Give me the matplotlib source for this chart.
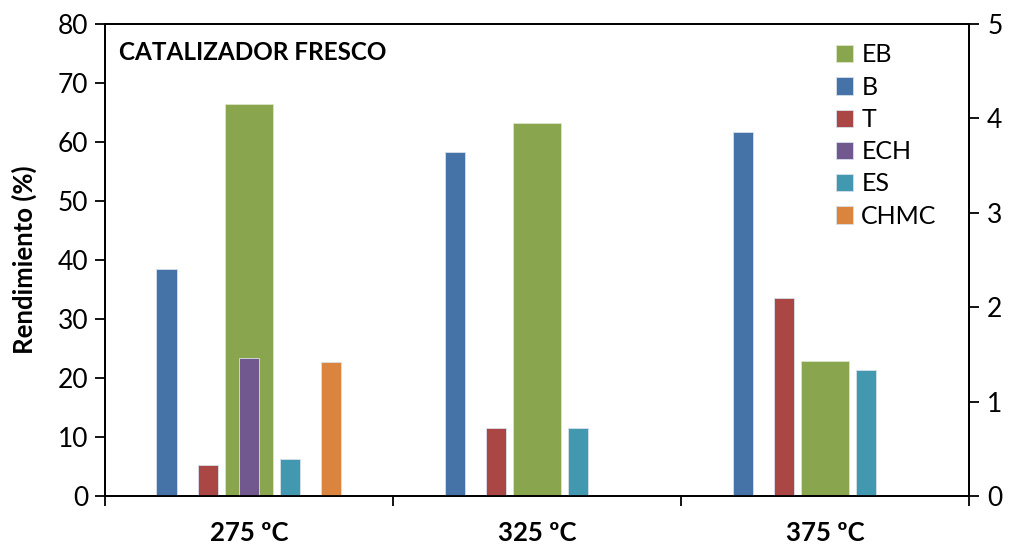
import numpy as np
import matplotlib
matplotlib.use("Agg")
from matplotlib import pyplot as plt

temperaturas = ["275 ºC", "325 ºC", "375 ºC"]

# EB va en el eje principal (izq.), el resto en el secundario (der.)
eb = [66.5, 63.3, 22.8]
b = [2.41, 3.64, 3.86]
t = [0.33, 0.72, 2.10]
ech = [1.46, 0.0, 0.0]
es = [0.39, 0.72, 1.33]
chmc = [1.42, 0.0, 0.0]

series2 = [("B", b, "#4572A7"), ("T", t, "#AA4643"), ("ECH", ech, "#71588F"),
           ("ES", es, "#4198AF"), ("CHMC", chmc, "#DB843D")]

plt.rcParams["font.family"] = ["Lato", "DejaVu Sans"]

fig = plt.figure(figsize=(10.15, 5.44), dpi=100)
ax = fig.add_axes([0.1032, 0.0882, 0.8515, 0.8677])
ax2 = ax.twinx()

x = np.arange(len(temperaturas))
h_eb = ax.bar(x, eb, width=0.1665, color="#89A54E", edgecolor="#DCE6C8",
              linewidth=0.6, label="EB")

slot = 0.1425
handles = [h_eb]
for i, (nombre, vals, col) in enumerate(series2):
    off = (i - 2) * slot
    h = ax2.bar(x + off, vals, width=0.071, color=col, edgecolor="#D8E0EA",
                linewidth=0.6, label=nombre)
    handles.append(h)

ax.set_xlim(-0.5, 2.5)
ax.set_ylim(0, 80)
ax.set_yticks(range(0, 81, 10))
ax2.set_ylim(0, 5)
ax2.set_yticks(range(0, 6))

ax.set_xticks(x)
ax.set_xticklabels(temperaturas, fontsize=18.5, fontweight="bold")
ax.set_xticks([-0.5, 0.5, 1.5, 2.5], minor=True)
ax.tick_params(axis="x", which="major", length=0, pad=18)
ax.tick_params(axis="x", which="minor", length=7, width=1.3, direction="out")
ax.tick_params(axis="y", labelsize=19, length=7, width=1.3, pad=5)
ax2.tick_params(axis="y", labelsize=19, length=7, width=1.3, pad=6)

for a in (ax, ax2):
    for s in a.spines.values():
        s.set_linewidth(1.3)

ax.set_ylabel("Rendimiento (%)", fontsize=18.5, fontweight="bold")
ax.yaxis.set_label_coords(-0.078, 0.5)
ax.text(0.016, 0.94, "CATALIZADOR FRESCO", transform=ax.transAxes,
        fontsize=17.5, fontweight="bold", va="center", ha="left")

ax2.legend(handles=handles, labels=["EB", "B", "T", "ECH", "ES", "CHMC"],
           loc="upper left", bbox_to_anchor=(0.834, 0.98), frameon=False,
           fontsize=18, handlelength=0.68, handleheight=0.68, handletextpad=0.35,
           labelspacing=0.37, borderaxespad=0)

fig.savefig("out.png", dpi=100)
